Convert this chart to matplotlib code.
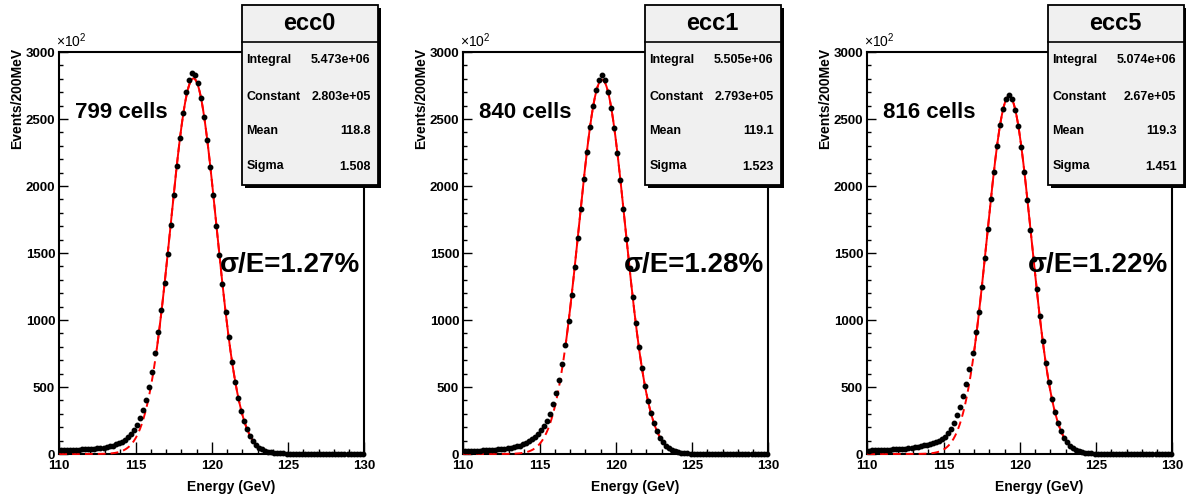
import numpy as np
import matplotlib.pyplot as plt
from matplotlib.patches import Rectangle

plt.rcParams['font.family'] = ['Liberation Sans', 'DejaVu Sans']
plt.rcParams['font.weight'] = 'bold'
plt.rcParams['mathtext.default'] = 'regular'

# histogram bin centres (200 MeV bins, 110-130 GeV)
energy = 110.1 + 0.2*np.arange(100)

names = ['ecc0', 'ecc1', 'ecc5']
cells = ['799 cells', '840 cells', '816 cells']
resol = ['1.27%', '1.28%', '1.22%']
integral = ['5.473e+06', '5.505e+06', '5.074e+06']
constant_txt = ['2.803e+05', '2.793e+05', '2.67e+05']
mean_txt = ['118.8', '119.1', '119.3']
sigma_txt = ['1.508', '1.523', '1.451']

# gaussian fit parameters (constant in units of 10^2 events)
constant = [2803, 2793, 2670]
mean = [118.8, 119.1, 119.3]
sigma = [1.508, 1.523, 1.451]
fit_lo = [116.4, 116.7, 117.0]
fit_hi = [123.8, 124.1, 124.1]

# events / 200 MeV, units of 10^2
counts_ecc0 = [28, 29, 30, 30, 31, 32, 33, 34, 35, 36,
               38, 40, 42, 45, 48, 52, 57, 63, 71, 80,
               92, 108, 127, 150, 180, 218, 265, 325, 405, 500,
               610, 755, 910, 1075, 1275, 1490, 1712, 1935, 2150, 2360,
               2545, 2705, 2790, 2840, 2828, 2766, 2655, 2515, 2340, 2145,
               1930, 1705, 1482, 1265, 1062, 872, 690, 540, 420, 322,
               248, 186, 136, 96, 68, 48, 34, 24, 17, 12,
               9, 7, 5, 4, 3, 2, 2, 2, 1, 1,
               1, 1, 1, 1, 1, 1, 1, 1, 1, 1,
               1, 1, 1, 1, 1, 1, 1, 1, 1, 1]
counts_ecc1 = [22, 23, 24, 24, 25, 26, 27, 28, 29, 31,
               32, 34, 36, 39, 42, 46, 51, 56, 63, 72,
               82, 94, 110, 128, 150, 178, 210, 250, 300, 370,
               455, 550, 672, 815, 990, 1185, 1392, 1610, 1832, 2050,
               2255, 2440, 2600, 2715, 2790, 2830, 2790, 2705, 2580, 2430,
               2250, 2045, 1828, 1605, 1385, 1175, 980, 800, 645, 510,
               397, 303, 228, 168, 122, 88, 62, 43, 30, 20,
               14, 9, 6, 4, 3, 2, 2, 2, 1, 1,
               1, 1, 1, 1, 1, 1, 1, 1, 1, 1,
               1, 1, 1, 1, 1, 1, 1, 1, 1, 1]
counts_ecc5 = [26, 27, 28, 28, 29, 30, 31, 32, 34, 35,
               37, 39, 41, 43, 45, 49, 53, 58, 64, 70,
               76, 82, 88, 95, 109, 129, 157, 189, 234, 289,
               353, 433, 522, 632, 756, 910, 1060, 1250, 1462, 1682,
               1900, 2108, 2295, 2455, 2575, 2650, 2680, 2650, 2570, 2450,
               2290, 2105, 1895, 1675, 1452, 1235, 1030, 844, 678, 534,
               413, 314, 234, 171, 123, 88, 62, 43, 30, 20,
               14, 9, 6, 4, 3, 2, 2, 2, 1, 1,
               1, 1, 1, 1, 1, 1, 1, 1, 1, 1,
               1, 1, 1, 1, 1, 1, 1, 1, 1, 1]
counts = [counts_ecc0, counts_ecc1, counts_ecc5]

W, H = 1186, 498
fig = plt.figure(figsize=(W/100, H/100), dpi=100)

def fx(px):
    return px/W

def fy(py):
    return 1 - py/H

def gaus(x, c, m, s):
    return c*np.exp(-0.5*((x-m)/s)**2)

for i in range(3):
    x0 = 59.3 + 404*i
    ax = fig.add_axes([fx(x0), fy(454), 305/W, 402/H])
    xx = np.linspace(110, 130, 801)
    ax.plot(xx, gaus(xx, constant[i], mean[i], sigma[i]), color='red', lw=1.4,
            ls=(0, (4, 2.6)), zorder=3, clip_on=False)
    xf = np.linspace(fit_lo[i], fit_hi[i], 400)
    ax.plot(xf, gaus(xf, constant[i], mean[i], sigma[i]), color='red', lw=1.4,
            zorder=3)
    ax.plot(energy, counts[i], 'o', color='black', ms=3.2, zorder=4, clip_on=False)
    ax.set_xlim(110, 130)
    ax.set_ylim(0, 3000)
    ax.set_xticks([110, 115, 120, 125, 130])
    ax.set_xticks(np.arange(110, 131, 1), minor=True)
    ax.set_yticks([0, 500, 1000, 1500, 2000, 2500, 3000])
    ax.set_yticks(np.arange(0, 3001, 100), minor=True)
    ax.tick_params(axis='x', which='major', direction='in', length=8.4, width=1,
                   labelsize=9.5, pad=4)
    ax.tick_params(axis='x', which='minor', direction='in', length=3.8, width=1)
    ax.tick_params(axis='y', which='major', direction='in', length=6.5, width=1,
                   labelsize=9.5, pad=3)
    ax.tick_params(axis='y', which='minor', direction='in', length=2.9, width=1)
    for lab in ax.get_xticklabels() + ax.get_yticklabels():
        lab.set_fontweight('bold')
    for sp in ax.spines.values():
        sp.set_linewidth(1.5)

    fig.text(fx(x0 + 216), fy(454 + 33), 'Energy (GeV)', ha='right', va='center',
             fontsize=10, fontweight='bold')
    fig.text(fx(x0 - 42), fy(48), 'Events/200MeV', rotation=90, ha='center',
             va='top', fontsize=10, fontweight='bold')
    fig.text(fx(x0 - 3), fy(50), r'$\times10^{2}$', ha='left', va='bottom',
             fontsize=10, fontweight='normal')
    fig.text(fx(x0 + 16), fy(112), cells[i], ha='left', va='center',
             fontsize=16, fontweight='bold')
    fig.text(fx(x0 + 301), fy(265), 'σ/E=' + resol[i], ha='right',
             va='center', fontsize=20, fontweight='bold')

    # stats box
    bl = 241.5 + 403*i
    bw, bt, bb = 136, 5, 185
    fig.patches.append(Rectangle((fx(bl + 3), fy(bb + 3)), bw/W, (bb - bt)/H,
                                 transform=fig.transFigure, facecolor='black',
                                 edgecolor='none', zorder=5))
    fig.patches.append(Rectangle((fx(bl), fy(bb)), bw/W, (bb - bt)/H,
                                 transform=fig.transFigure, facecolor='#f0f0f0',
                                 edgecolor='black', lw=1.3, zorder=6))
    fig.lines.append(plt.Line2D([fx(bl), fx(bl + bw)], [fy(42), fy(42)],
                                transform=fig.transFigure, color='black', lw=1.2,
                                zorder=7))
    fig.text(fx(bl + bw/2), fy(23), names[i], ha='center', va='center',
             fontsize=17, fontweight='bold', zorder=8)
    rows = [('Integral', integral[i]), ('Constant', constant_txt[i]),
            ('Mean', mean_txt[i]), ('Sigma', sigma_txt[i])]
    for (lab, val), yy in zip(rows, [60, 96.5, 130.5, 166.5]):
        fig.text(fx(bl + 5), fy(yy), lab, ha='left', va='center', fontsize=9,
                 fontweight='bold', zorder=8)
        fig.text(fx(bl + 129), fy(yy), val, ha='right', va='center', fontsize=9,
                 fontweight='bold', zorder=8)

fig.savefig('out.png', dpi=100)
